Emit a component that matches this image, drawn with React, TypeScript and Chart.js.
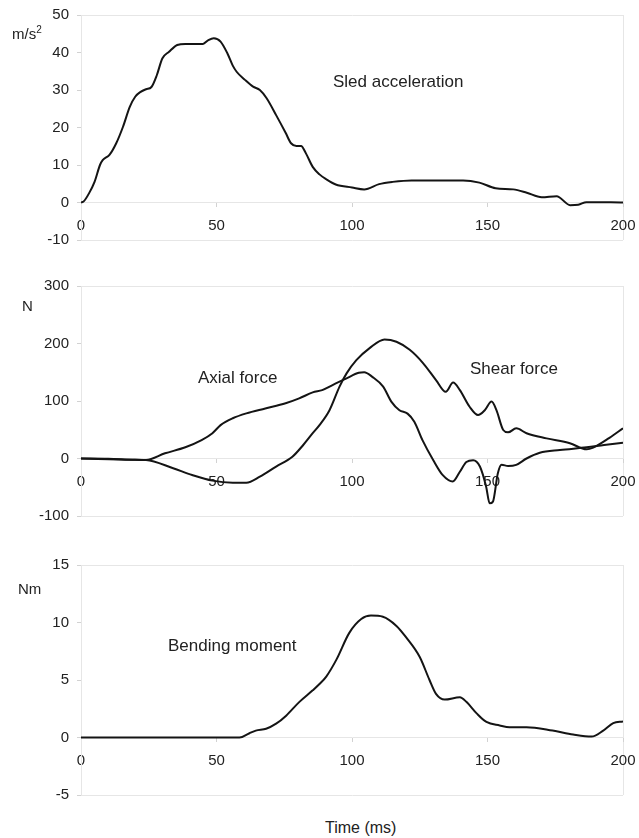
import React, { useEffect, useRef } from 'react';
import { Chart, registerables } from 'chart.js';

Chart.register(...registerables);

// ---------- Data ----------
const sledTime = [0, 1, 3, 5, 7, 8, 10.5, 13, 15.5, 18, 20, 22, 24, 26, 28, 30, 32.5, 35.5, 38.5, 45, 47, 49, 51.5, 54, 56, 57.5, 60.5, 63.5, 66, 68.5, 72, 75.5, 77.5, 79.5, 81.2, 83, 85.5, 88, 90.5, 94, 100, 104.5, 110, 115, 122, 141, 147, 153, 159.5, 164.5, 170, 175.5, 180.5, 183.5, 186.5, 200];
const sledAccel = [0, 0.3, 2.5, 5.5, 10, 11.3, 12.7, 15.8, 20.2, 25.5, 28.2, 29.5, 30.2, 30.8, 34, 38.4, 40.2, 42, 42.3, 42.3, 43.3, 43.8, 42.9, 39.8, 36.5, 34.8, 32.7, 30.9, 30, 27.8, 23.3, 18.6, 15.8, 15.1, 15.1, 13.1, 9.5, 7.5, 6.2, 4.8, 4.0, 3.5, 4.9, 5.5, 5.9, 5.9, 5.3, 3.8, 3.5, 2.6, 1.4, 1.7, -0.7, -0.6, 0.1, 0];

const axialTime = [0, 10, 19, 24, 31, 38.5, 44.5, 48.5, 51.5, 56, 61, 68, 75.5, 80.5, 85.5, 89, 93, 98, 102.5, 104.5, 107.5, 111.5, 114.5, 117.5, 120.5, 123, 126, 130, 133.5, 137.2, 139.8, 142.2, 144.7, 147.2, 149.5, 150.8, 152, 153.8, 155.2, 157.6, 160.6, 164.4, 169.3, 176.7, 186.6, 193, 200];
const axialForce = [0, -0.5, -2, -2.5, 9, 19.5, 32, 44, 58, 70, 78.5, 87, 96, 104.5, 115, 119, 128, 139.5, 149, 150, 142, 125, 99, 84, 78, 64, 32, -3, -29, -40, -23, -6, -3, -14, -49, -78, -75, -26, -11, -13, -11, 0, 10, 14.8, 19.4, 23.5, 27.5];

const shearTime = [0, 19, 24, 34, 41, 48.5, 56, 61, 66, 72, 78, 82, 85.5, 88, 91.7, 95.4, 98, 101.6, 106.5, 112, 116.4, 121.3, 126.2, 131, 134.6, 137.3, 139.8, 143.4, 146.5, 149, 151.5, 153.3, 155.8, 157.6, 160.6, 164.4, 171.8, 180.4, 186.6, 189, 195, 200];
const shearForce = [0, -2, -2.5, -17, -28.7, -38.5, -42, -42, -31.6, -14, 3, 23.5, 44, 58, 84, 125, 148, 171, 192, 207, 203, 189, 166, 136.5, 116, 132, 119, 90, 75.6, 84, 99, 84, 49.6, 45.5, 52.5, 44, 35, 26.4, 16, 19, 36, 52.5];

const momentTime = [0, 58.5, 62, 64.5, 68.3, 72, 75.7, 80.6, 85.5, 88, 90.5, 94.2, 99, 103.4, 107, 111.4, 116.4, 120, 125, 128.6, 131, 134.2, 139.8, 142.2, 146, 149.6, 154.5, 158.2, 164.4, 174, 181.6, 188.4, 192.7, 196.4, 200];
const bendingMoment = [0, 0, 0.35, 0.6, 0.76, 1.2, 1.9, 3.1, 4.1, 4.65, 5.3, 6.75, 9.1, 10.3, 10.6, 10.5, 9.7, 8.7, 7.0, 5.0, 3.8, 3.3, 3.5, 3.1, 2.1, 1.35, 1.05, 0.9, 0.9, 0.6, 0.26, 0.08, 0.6, 1.25, 1.4];

const xTickStep = 50;
const xMin = 0;
const xMax = 200;

// ---------- Styles ----------
const FONT = 'Liberation Sans, Arial, Helvetica, sans-serif';
const FRAME = '#e6e6e6';
const TICK = '#d2d2d2';
const TEXT = '#222222';
const LINE = '#141414';

type Series = { label: string; t: number[]; v: number[] };
type PanelDef = {
  top: number;
  height: number;
  padTop: number;
  padBottom: number;
  yMin: number;
  yMax: number;
  yStep: number;
  series: Series[];
};

const panels: PanelDef[] = [
  { top: 0, height: 252, padTop: 15, padBottom: 12, yMin: -10, yMax: 50, yStep: 10,
    series: [{ label: 'Sled acceleration', t: sledTime, v: sledAccel }] },
  { top: 262, height: 268, padTop: 24, padBottom: 14, yMin: -100, yMax: 300, yStep: 100,
    series: [
      { label: 'Axial force', t: axialTime, v: axialForce },
      { label: 'Shear force', t: shearTime, v: shearForce },
    ] },
  { top: 542, height: 268, padTop: 23, padBottom: 15, yMin: -5, yMax: 15, yStep: 5,
    series: [{ label: 'Bending moment', t: momentTime, v: bendingMoment }] },
];

function PanelChart({ p }: { p: PanelDef }) {
  const ref = useRef<HTMLCanvasElement>(null);
  useEffect(() => {
    if (!ref.current) return;
    const chart = new Chart(ref.current, {
      type: 'line',
      data: {
        datasets: p.series.map((s) => ({
          label: s.label,
          data: s.t.map((t, i) => ({ x: t, y: s.v[i] })),
          borderColor: LINE,
          borderWidth: 2,
          pointRadius: 0,
          fill: false,
          cubicInterpolationMode: 'monotone' as const,
        })),
      },
      options: {
        responsive: false,
        animation: false,
        layout: { padding: { top: p.padTop, bottom: p.padBottom, left: 0, right: 16 } },
        plugins: { legend: { display: false }, tooltip: { enabled: false } },
        scales: {
          x: {
            type: 'linear',
            min: xMin,
            max: xMax,
            position: { y: 0 } as any,
            afterFit: (s: any) => {
              s.paddingLeft = 0; s.paddingRight = 0; s.paddingTop = 0; s.paddingBottom = 0;
            },
            ticks: { stepSize: xTickStep, padding: 10, color: TEXT, font: { family: FONT, size: 15 } },
            grid: {
              color: (c: any) => (c.tick && (c.tick.value === xMin || c.tick.value === xMax) ? FRAME : 'rgba(0,0,0,0)'),
              tickColor: TICK,
              tickLength: 4,
            },
            border: { color: FRAME },
          },
          y: {
            type: 'linear',
            min: p.yMin,
            max: p.yMax,
            afterFit: (s: any) => {
              s.width = 81; s.paddingTop = 0; s.paddingBottom = 0;
            },
            ticks: { stepSize: p.yStep, padding: 8, color: TEXT, font: { family: FONT, size: 15 } },
            grid: {
              color: (c: any) => (c.tick && (c.tick.value === p.yMin || c.tick.value === p.yMax) ? FRAME : 'rgba(0,0,0,0)'),
              tickColor: TICK,
              tickLength: 4,
            },
            border: { color: FRAME },
          },
        },
      },
    });
    return () => chart.destroy();
  }, [p]);
  return (
    <canvas
      ref={ref}
      width={639}
      height={p.height}
      style={{ position: 'absolute', left: 0, top: p.top, width: 639, height: p.height }}
    />
  );
}

const label = (text: React.ReactNode, left: number, top: number, size: number) => (
  <div
    style={{
      position: 'absolute', left, top, fontFamily: FONT, fontSize: size, lineHeight: 1,
      color: TEXT, whiteSpace: 'nowrap',
    }}
  >
    {text}
  </div>
);

export default function App() {
  return (
    <div style={{ position: 'absolute', left: 0, top: 0, width: 639, height: 838, background: '#fff', overflow: 'hidden' }}>
      {panels.map((p, i) => (
        <PanelChart key={i} p={p} />
      ))}
      {label(<span>m/s<sup style={{ fontSize: 10, verticalAlign: 'super', lineHeight: 0 }}>2</sup></span>, 12, 26, 15)}
      {label('N', 22, 298, 15)}
      {label('Nm', 18, 581, 15)}
      {label('Sled acceleration', 333, 72.5, 17)}
      {label('Axial force', 198, 369, 17)}
      {label('Shear force', 470, 359.5, 17)}
      {label('Bending moment', 168, 637, 17)}
      {label('Time (ms)', 325, 820, 16)}
    </div>
  );
}
